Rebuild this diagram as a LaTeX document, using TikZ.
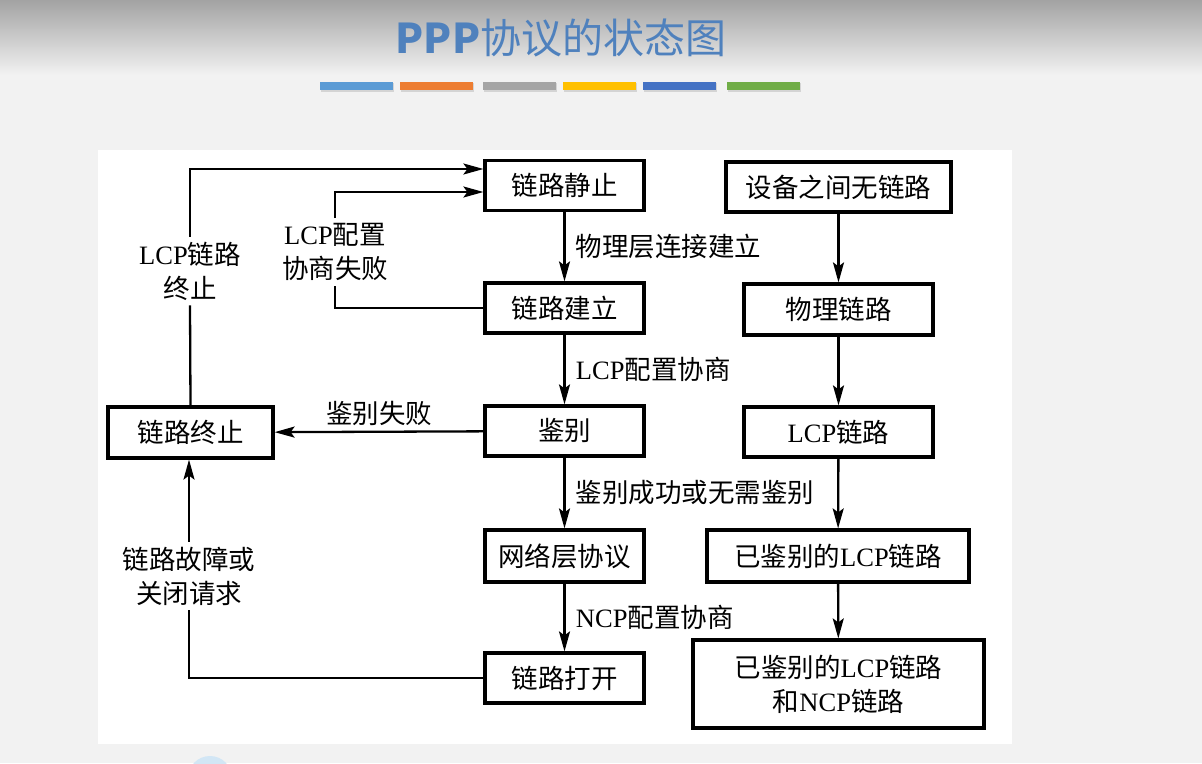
\documentclass[tikz,border=0pt]{standalone}
\usepackage{fontspec}
\setmainfont{Noto Sans CJK SC}
\newfontfamily\latinSerif{Liberation Serif}
\usetikzlibrary{positioning, arrows.meta, calc}
\definecolor{titleBlue}{HTML}{4F81BD}
\definecolor{barBlue}{HTML}{5B9BD5}
\definecolor{barOrange}{HTML}{ED7D31}
\definecolor{barGray}{HTML}{A5A5A5}
\definecolor{barYellow}{HTML}{FFC000}
\definecolor{barDarkBlue}{HTML}{4472C4}
\definecolor{barGreen}{HTML}{70AD47}
\definecolor{bgLight}{HTML}{F2F2F2}
\definecolor{bgTop}{HTML}{A3A3A3}
\definecolor{dotBlue}{HTML}{D2E6F5}
\newcommand{\enword}[1]{{\latinSerif #1}}

\begin{document}
\begin{tikzpicture}[
    x=1pt, y=-1pt,
    font=\fontsize{26.5}{34}\selectfont,
    >={Stealth[length=20pt, width=11pt, inset=4pt]},
    stateBox/.style={
        draw, line width=3.2pt, align=center, inner sep=0pt,
        minimum height=50pt
    },
    flow/.style={->, line width=2.3pt},
    line/.style={line width=2.3pt},
    edgeLabel/.style={fill=white, inner sep=5pt, align=center}
]

% background and panel
\useasboundingbox (0,0) rectangle (1202,763);
\fill[bgLight] (0,0) rectangle (1202,763);
\shade[top color=bgTop, bottom color=bgLight] (0,0) rectangle (1202,75);
\fill[dotBlue] (210,778) circle (22);
\fill[white] (98,150) rectangle (1012,744);

% title and colour bars
\node[text=titleBlue, font=\fontsize{41}{45}\selectfont] (title) at (561,38) {{\bfseries PPP}协议的状态图};
\foreach \xpos/\col in {320/barBlue, 400/barOrange, 483/barGray, 563/barYellow, 643/barDarkBlue, 727/barGreen} {
    \fill[black, opacity=0.12] (\xpos+1,83) rectangle ++(73,9);
    \fill[\col] (\xpos,82) rectangle ++(73,8);
}

% middle column
\node[stateBox, minimum width=159pt] (quiet) at (564.5,185.5) {链路静止};
\node[stateBox, minimum width=159pt] (establish) at (564.5,308) {链路建立};
\node[stateBox, minimum width=159pt] (auth) at (564.5,431) {鉴别};
\node[stateBox, minimum width=159pt, minimum height=52pt] (network) at (564.5,556) {网络层协议};
\node[stateBox, minimum width=159pt] (open) at (564.5,678) {链路打开};

% left box
\node[stateBox, minimum width=165pt, minimum height=51pt] (terminate) at (190.5,432.5) {链路终止};

% right column
\node[stateBox, minimum width=225pt] (noLink) at (838.5,187) {设备之间无链路};
\node[stateBox, minimum width=189pt, minimum height=51pt] (physLink) at (838.5,309.5) {物理链路};
\node[stateBox, minimum width=189pt] (lcpLink) at (838.5,432) {\enword{LCP}链路};
\node[stateBox, minimum width=262pt, minimum height=52pt] (authLink) at (838,556) {已鉴别的\enword{LCP}链路};
\node[stateBox, minimum width=291pt, minimum height=88pt] (ncpLink) at (838.5,684) {已鉴别的\enword{LCP}链路\\和\enword{NCP}链路};

% main flow
\draw[flow] (quiet) -- (establish) node[midway, right=7pt] {物理层连接建立};
\draw[flow] (establish) -- (auth) node[midway, right=7pt] {\enword{LCP}配置协商};
\draw[flow] (auth) -- (network) node[midway, right=7pt] {鉴别成功或无需鉴别};
\draw[flow] (network) -- (open) node[midway, right=7pt] {\enword{NCP}配置协商};
\draw[flow] (auth) -- (terminate) node[midway, above=2pt] {鉴别失败};

% right flow
\draw[flow] (noLink) -- (physLink);
\draw[flow] (physLink) -- (lcpLink);
\draw[flow] (lcpLink) -- (authLink);
\draw[flow] (authLink) -- (ncpLink);

% loops back
\node[edgeLabel] (termText) at (190,271) {\enword{LCP}链路\\终止};
\draw[line] (terminate.north) -- (termText.south);
\draw[flow] (termText.north) |- ([yshift=16.5pt]quiet.west);

\node[edgeLabel] (failText) at (335,252) {\enword{LCP}配置\\协商失败};
\draw[line] (establish.west) -| (failText.south);
\draw[flow] (failText.north) |- ([yshift=-6.5pt]quiet.west);

\node[edgeLabel] (closeText) at (189,576) {链路故障或\\关闭请求};
\draw[line] (open.west) -| (closeText.south);
\draw[flow] (closeText.north) -- (closeText.north |- terminate.south);

\end{tikzpicture}
\end{document}
